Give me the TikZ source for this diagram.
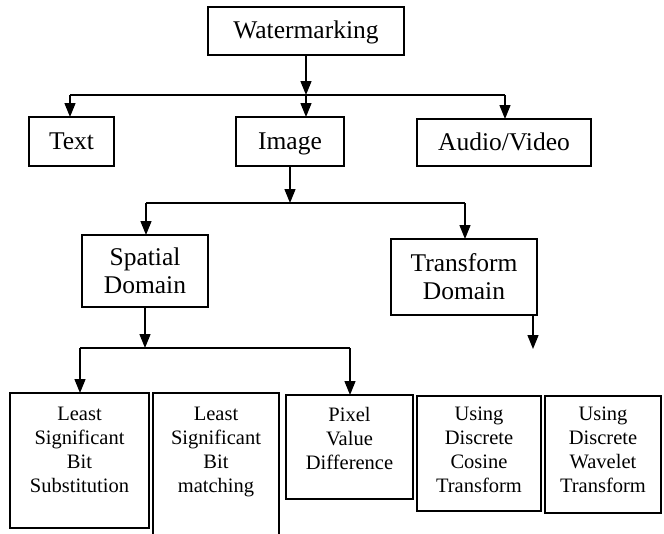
\documentclass[tikz,border=0pt]{standalone}
\usepackage{fontspec}
\setmainfont{Liberation Serif}
\usetikzlibrary{arrows.meta}
\begin{document}
\begin{tikzpicture}[x=1pt,y=-1pt,
  box/.style={draw, line width=1.4pt, rectangle, inner sep=0pt, outer sep=0pt},
  big/.style={font=\fontsize{25.5}{28}\selectfont, align=center},
  one/.style={big, text height=19pt, text depth=4pt},
  lbl/.style={font=\fontsize{20.5}{24}\selectfont, align=center, anchor=north, inner sep=0pt},
  arr/.style={line width=1.4pt, -{Triangle[width=11pt,length=14pt]}},
  ln/.style={line width=1.4pt}]
\clip (0,0) rectangle (664,533);
\fill[white] (0,0) rectangle (664,533);
% top level
\node[box, one, minimum width=196, minimum height=48] (wm) at (306,31) {Watermarking};
\node[box, one, minimum width=85, minimum height=49] (txt) at (71.5,141.5) {Text};
\node[box, one, minimum width=108, minimum height=49] (img) at (290,141.5) {Image};
\node[box, one, minimum width=174, minimum height=47] (av) at (504,142.5) {Audio/Video};
% second level
\node[box, big, minimum width=126, minimum height=72] (sp) at (145,271) {Spatial\\Domain};
\node[box, big, minimum width=146, minimum height=76] (tr) at (464,277) {Transform\\Domain};
% third level boxes
\node[box, minimum width=139, minimum height=135] (lsb) at (79.5,460.5) {};
\node[box, minimum width=126, minimum height=152] (lsbm) at (216,469) {};
\node[box, minimum width=127, minimum height=104] (pvd) at (349.5,447) {};
\node[box, minimum width=124, minimum height=115] (dct) at (479,453.5) {};
\node[box, minimum width=116, minimum height=117] (dwt) at (603,454.5) {};
\node[lbl] (lsbt) at (79.5,407) {Least\\Significant\\Bit\\Substitution};
\node[lbl] (lsbmt) at (216,407) {Least\\Significant\\Bit\\matching};
\node[lbl] (pvdt) at (349.5,407) {Pixel\\Value\\Difference};
\node[lbl] (dctt) at (479,407) {Using\\Discrete\\Cosine\\Transform};
\node[lbl] (dwtt) at (603,407) {Using\\Discrete\\Wavelet\\Transform};
% junction coordinates
\coordinate (j1) at (306,95);
\coordinate (j1l) at (70,95);
\coordinate (j1r) at (505,95);
\coordinate (j2) at (290,203);
\coordinate (j2l) at (146,203);
\coordinate (j2r) at (465,203);
\coordinate (j3) at (145,348);
\coordinate (j3l) at (80,348);
\coordinate (j3r) at (350,348);
\coordinate (trend) at (533,349);
% connectors level 1
\draw[arr] (wm.south -| j1) -- (j1);
\draw[ln] (j1l) -- (j1r);
\draw[arr] (j1l) -- (j1l |- txt.north);
\draw[arr] (j1) -- (j1 |- img.north);
\draw[arr] (j1r) -- (j1r |- av.north);
% level 2
\draw[arr] (img.south -| j2) -- (j2);
\draw[ln] (j2l) -- (j2r);
\draw[arr] (j2l) -- (j2l |- sp.north);
\draw[arr] (j2r) -- (j2r |- tr.north);
% level 3
\draw[arr] (sp.south -| j3) -- (j3);
\draw[ln] (j3l) -- (j3r);
\draw[arr] (j3l) -- (j3l |- lsb.north);
\draw[arr] (j3r) -- (j3r |- pvd.north);
\draw[arr] (tr.south -| trend) -- (trend);
\end{tikzpicture}
\end{document}
